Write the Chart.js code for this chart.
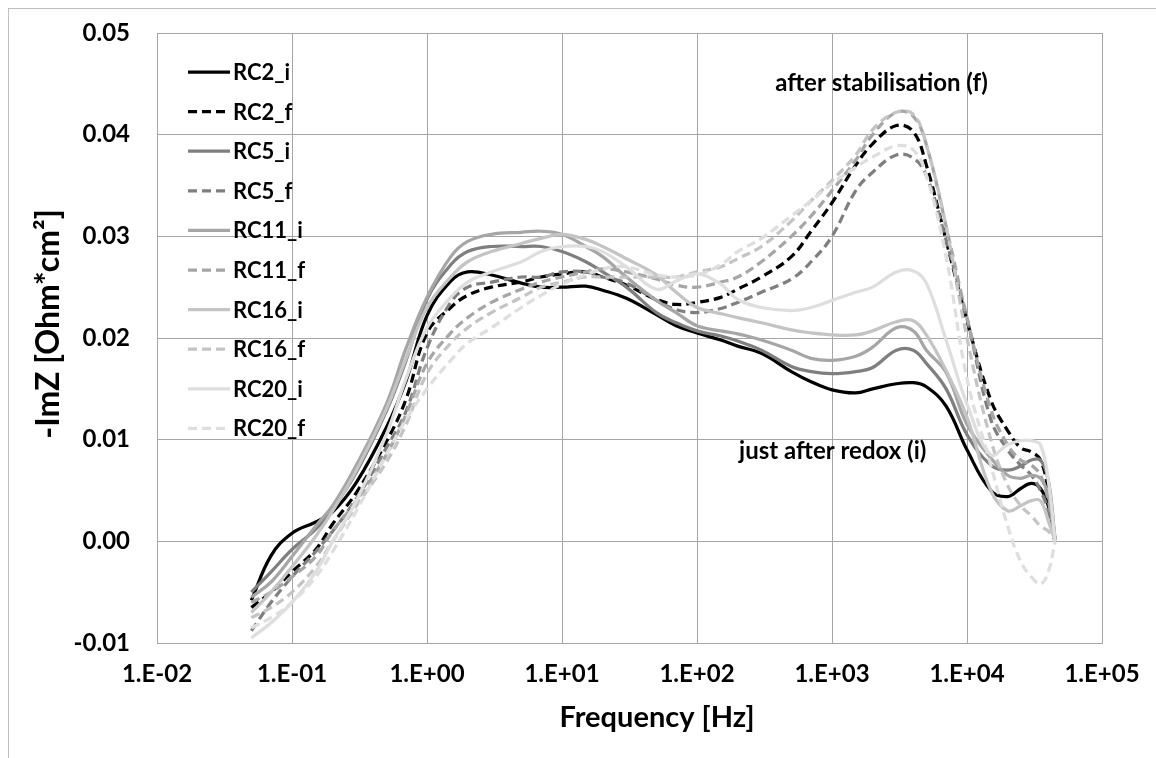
<!DOCTYPE html>
<html>
<head>
<meta charset="utf-8">
<script src="https://cdn.jsdelivr.net/npm/chart.js@4.4.1/dist/chart.umd.min.js"></script>
<style>
  body{margin:0;background:#fff;}
  #wrap{width:1156px;height:758px;}
</style>
</head>
<body>
<div id="wrap"><canvas id="myChart" width="1156" height="758"></canvas></div>
<script>
// frequencies [Hz]
var freq=[0.05,0.07,0.1,0.15,0.2,0.3,0.5,0.7,1,1.5,2,3,5,7,10,15,20,30,50,70,100,150,200,300,500,700,1000,1500,2000,3000,4000,5000,7000,10000,15000,20000,25000,30000,35000,40000,45000];

// -ImZ [Ohm*cm2] for each cell
var rc2_i=[-0.0058,-0.0014,0.0008,0.0019,0.0029,0.0058,0.0112,0.0158,0.0222,0.0256,0.0265,0.0262,0.0254,0.025,0.025,0.0251,0.0247,0.0239,0.0223,0.0212,0.0205,0.0198,0.0192,0.0185,0.0167,0.0157,0.0149,0.0146,0.015,0.0155,0.0156,0.0152,0.0133,0.009,0.005,0.0044,0.0052,0.0057,0.0052,0.0035,0.0001];
var rc2_f=[-0.0065,-0.005,-0.003,-0.0008,0.0017,0.0048,0.0098,0.014,0.0205,0.023,0.0242,0.025,0.0255,0.026,0.0263,0.0265,0.026,0.0252,0.0238,0.0233,0.0235,0.024,0.0248,0.026,0.028,0.0305,0.0333,0.037,0.0391,0.0409,0.0403,0.037,0.0296,0.0217,0.0139,0.0109,0.0092,0.0088,0.008,0.005,0];
var rc5_i=[-0.005,-0.003,-0.0008,0.0012,0.0032,0.0068,0.0128,0.0178,0.0238,0.0272,0.0285,0.029,0.029,0.029,0.0285,0.0275,0.0265,0.025,0.0225,0.0215,0.0207,0.0202,0.0197,0.0188,0.0172,0.0167,0.0165,0.0167,0.0171,0.0188,0.0188,0.0175,0.015,0.0105,0.0075,0.007,0.0074,0.008,0.008,0.006,0.0001];
var rc5_f=[-0.0088,-0.006,-0.0035,-0.001,0.001,0.0042,0.0092,0.0128,0.019,0.0235,0.025,0.0255,0.026,0.026,0.0265,0.0265,0.026,0.0254,0.0237,0.0228,0.0225,0.0229,0.0235,0.0245,0.0258,0.0275,0.03,0.0345,0.0363,0.038,0.0377,0.036,0.0296,0.0219,0.012,0.009,0.0075,0.0065,0.005,0.003,0];
var rc11_i=[-0.0055,-0.004,-0.0015,0.0015,0.0035,0.0075,0.0135,0.019,0.024,0.028,0.0295,0.0302,0.0304,0.0305,0.0302,0.029,0.028,0.026,0.0237,0.0225,0.0212,0.0207,0.0204,0.0198,0.0188,0.018,0.0178,0.0182,0.0191,0.021,0.0207,0.0188,0.0166,0.0115,0.0082,0.0065,0.0062,0.0065,0.0062,0.0045,0];
var rc11_f=[-0.006,-0.005,-0.0035,-0.0015,0.001,0.004,0.0085,0.0125,0.0175,0.0205,0.022,0.0235,0.0248,0.0255,0.026,0.0265,0.0268,0.0265,0.0258,0.0252,0.025,0.0255,0.026,0.0275,0.03,0.032,0.0345,0.0375,0.04,0.0422,0.0418,0.039,0.031,0.022,0.013,0.0095,0.008,0.0075,0.0065,0.004,0];
var rc16_i=[-0.007,-0.005,-0.0025,0.0005,0.003,0.007,0.013,0.018,0.023,0.026,0.0275,0.0285,0.0293,0.0298,0.0302,0.0297,0.029,0.0278,0.0262,0.0245,0.023,0.0224,0.022,0.0215,0.0208,0.0205,0.0203,0.0203,0.0207,0.0216,0.0217,0.0203,0.0168,0.0122,0.005,0.003,0.0035,0.004,0.004,0.002,0];
var rc16_f=[-0.0075,-0.0065,-0.005,-0.0025,0,0.0035,0.0078,0.0115,0.0165,0.0195,0.021,0.0225,0.024,0.025,0.0255,0.026,0.026,0.026,0.026,0.026,0.0265,0.027,0.0278,0.029,0.0315,0.0335,0.0355,0.038,0.0405,0.0422,0.042,0.039,0.031,0.02,0.01,0.0055,0.0035,0.0025,0.0015,0.001,0];
var rc20_i=[-0.0095,-0.008,-0.006,-0.003,0,0.004,0.0105,0.016,0.021,0.024,0.0255,0.0265,0.0275,0.0285,0.029,0.029,0.0285,0.027,0.0248,0.0256,0.0263,0.0253,0.0238,0.023,0.0227,0.023,0.0237,0.0245,0.025,0.0265,0.0266,0.0254,0.0198,0.0135,0.0085,0.0095,0.0099,0.0099,0.0095,0.006,0];
var rc20_f=[-0.0085,-0.0075,-0.006,-0.0035,-0.001,0.003,0.0085,0.012,0.015,0.0178,0.0195,0.021,0.023,0.0242,0.0253,0.0262,0.0268,0.027,0.0262,0.026,0.0262,0.0272,0.0285,0.0298,0.032,0.0335,0.0352,0.0368,0.0378,0.0389,0.0385,0.036,0.028,0.016,0.0075,0.0015,-0.002,-0.0035,-0.0042,-0.003,0];

var nomi=['RC2_i','RC2_f','RC5_i','RC5_f','RC11_i','RC11_f','RC16_i','RC16_f','RC20_i','RC20_f'];
var serie=[rc2_i,rc2_f,rc5_i,rc5_f,rc11_i,rc11_f,rc16_i,rc16_f,rc20_i,rc20_f];
var colori=['#000000','#000000','#7f7f7f','#7f7f7f','#a6a6a6','#a6a6a6','#c4c4c4','#c4c4c4','#dedede','#dedede'];

var xTicks=[0.01,0.1,1,10,100,1000,10000,100000];
var xTickLabels=['1.E-02','1.E-01','1.E+00','1.E+01','1.E+02','1.E+03','1.E+04','1.E+05'];
var yTicks=[-0.01,0,0.01,0.02,0.03,0.04,0.05];
var yTickLabels=['-0.01','0.00','0.01','0.02','0.03','0.04','0.05'];

var FONT='Lato, "Open Sans", sans-serif';

var datasets=[];
for(var i=0;i<serie.length;i++){
  var punti=[];
  for(var j=0;j<freq.length;j++){
    punti.push({x:freq[j],y:serie[i][j]});
  }
  var tratteggio=nomi[i].indexOf('_f')>0;
  datasets.push({
    label:nomi[i],
    data:punti,
    borderColor:colori[i],
    borderWidth:3.25,
    borderDash:tratteggio?[9,5]:[],
    pointRadius:0,
    tension:0.4,
    fill:false,
    order:-i // later series on top, like the original
  });
}

// legend inside the plot, drawn by hand
var legendaPlugin={
  id:'legenda',
  afterDraw:function(chart){
    var ctx=chart.ctx;
    ctx.save();
    for(var i=0;i<datasets.length;i++){
      var y=72+i*39.6;
      ctx.beginPath();
      ctx.strokeStyle=datasets[i].borderColor;
      ctx.lineWidth=3.25;
      ctx.setLineDash(datasets[i].borderDash);
      ctx.moveTo(188,y);
      ctx.lineTo(230,y);
      ctx.stroke();
      ctx.setLineDash([]);
      ctx.fillStyle='#000';
      ctx.font='bold 22px '+FONT;
      ctx.textBaseline='middle';
      ctx.textAlign='left';
      ctx.fillText(nomi[i],233,y+1);
    }
    ctx.restore();
  }
};

// text boxes and axis titles (placed like in the excel sheet)
var notePlugin={
  id:'note',
  afterDraw:function(chart){
    var ctx=chart.ctx;
    var sx=chart.scales.x, sy=chart.scales.y;
    ctx.save();
    ctx.fillStyle='#000';
    ctx.font='bold 24px '+FONT;
    ctx.textBaseline='middle';
    ctx.textAlign='left';
    ctx.fillText('after stabilisation (f)',sx.getPixelForValue(380),sy.getPixelForValue(0.0451));
    ctx.fillText('just after redox (i)',sx.getPixelForValue(205),sy.getPixelForValue(0.0089));

    ctx.textAlign='center';
    ctx.font='bold 29px '+FONT;
    ctx.fillText('Frequency [Hz]',657,718);

    ctx.translate(49,324);
    ctx.rotate(-Math.PI/2);
    ctx.font='bold 32px '+FONT;
    ctx.fillText('-ImZ [Ohm*cm²]',0,0);
    ctx.restore();
  }
};

// outer frame of the chart object
var cornicePlugin={
  id:'cornice',
  beforeDraw:function(chart){
    var ctx=chart.ctx;
    ctx.save();
    ctx.fillStyle='#fff';
    ctx.fillRect(0,0,chart.width,chart.height);
    ctx.strokeStyle='#bfbfbf';
    ctx.lineWidth=1;
    ctx.strokeRect(8.5,8.5,1300,900);
    ctx.restore();
  }
};

var ctx=document.getElementById('myChart').getContext('2d');
var chart=new Chart(ctx,{
  type:'line',
  data:{datasets:datasets},
  plugins:[cornicePlugin,legendaPlugin,notePlugin],
  options:{
    responsive:false,
    animation:false,
    devicePixelRatio:1,
    layout:{padding:{left:0,right:54,top:33,bottom:0}},
    plugins:{legend:{display:false},tooltip:{enabled:false}},
    scales:{
      x:{
        type:'logarithmic',
        min:0.01,
        max:100000,
        afterFit:function(s){s.height=115;s.paddingLeft=0;s.paddingRight=0;},
        afterBuildTicks:function(s){
          s.ticks=xTicks.map(function(v){return {value:v};});
        },
        ticks:{
          autoSkip:false,
          maxRotation:0,
          padding:17,
          color:'#000',
          font:{family:FONT,size:24,weight:'bold'},
          callback:function(v){
            var k=xTicks.indexOf(v);
            return k>=0?xTickLabels[k]:'';
          }
        },
        grid:{color:'#a6a6a6',lineWidth:1,drawTicks:false},
        border:{color:'#a6a6a6'},
        title:{display:false}
      },
      y:{
        min:-0.01,
        max:0.05,
        afterFit:function(s){s.width=157;s.paddingTop=0;s.paddingBottom=0;},
        afterBuildTicks:function(s){
          s.ticks=yTicks.map(function(v){return {value:v};});
        },
        ticks:{
          padding:27,
          color:'#000',
          font:{family:FONT,size:24,weight:'bold'},
          callback:function(v){
            var k=yTicks.findIndex(function(t){return Math.abs(t-v)<1e-9;});
            return k>=0?yTickLabels[k]:'';
          }
        },
        grid:{color:'#a6a6a6',lineWidth:1,drawTicks:false},
        border:{color:'#a6a6a6'},
        title:{display:false}
      }
    }
  }
});
</script>
</body>
</html>
